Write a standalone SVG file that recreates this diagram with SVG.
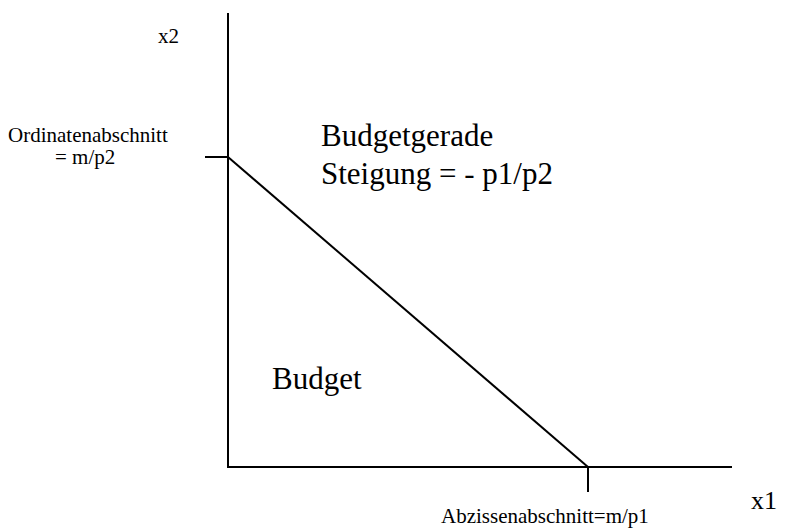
<svg xmlns="http://www.w3.org/2000/svg" width="799" height="529" viewBox="0 0 799 529">
<style>
text{font-family:"Liberation Serif","Times New Roman",serif;fill:#000}
.s{font-size:21px}
.l{font-size:31px}
.m{font-size:26px}
line{stroke:#000;stroke-width:2;fill:none}
</style>
<rect width="799" height="529" fill="#fff"/>
<g id="axes">
<line x1="228" y1="13" x2="228" y2="468"/>
<line x1="227" y1="467" x2="732" y2="467"/>
</g>
<g id="connectors">
<line x1="228" y1="157" x2="588" y2="467"/>
<line x1="205" y1="157" x2="228" y2="157"/>
<line x1="588" y1="467" x2="588" y2="492"/>
</g>
<g id="labels">
<text class="s" x="158" y="43">x2</text>
<text class="s" x="8" y="142">Ordinatenabschnitt</text>
<text class="s" x="55" y="164">= m/p2</text>
<text class="l" x="321" y="146">Budgetgerade</text>
<text class="l" x="321" y="184">Steigung = - p1/p2</text>
<text class="l" x="272" y="389">Budget</text>
<text class="m" x="751" y="509">x1</text>
<text class="s" x="441" y="523">Abzissenabschnitt=m/p1</text>
</g>
</svg>
